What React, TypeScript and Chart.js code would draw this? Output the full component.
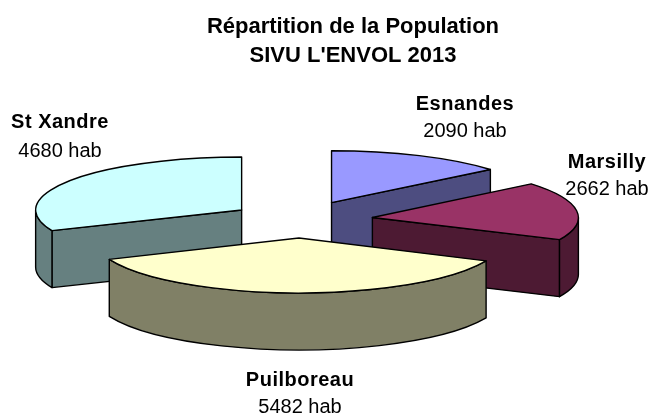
import React, { useEffect, useRef } from "react";
import { Chart, registerables } from "chart.js";

Chart.register(...registerables);

const communes = ["Esnandes", "Marsilly", "Puilboreau", "St Xandre"];
const habitants = [2090, 2662, 5482, 4680];
const habLabels = ["2090 hab", "2662 hab", "5482 hab", "4680 hab"];
const topColors = ["#9999FF", "#993366", "#FFFFCC", "#CCFFFF"];
const wallColors = ["#4D4D80", "#4D1A33", "#808066", "#668080"];
const titleLines = ["Répartition de la Population", "SIVU L'ENVOL 2013"];

const pie3d = {
  center: { x: 300, y: 220 },
  tilt: 0.26,
  flatten: [0.252, 0.257, 0.267, 0.257],
  depth: 57,
  pull: [74, 73, 69, 70],
  labelAt: [
    { x: 465, y: 110, gap: 27 },
    { x: 607, y: 168, gap: 27 },
    { x: 300, y: 386, gap: 27 },
    { x: 60, y: 128, gap: 29 },
  ],
};

const pie3dPlugin = {
  id: "pie3d",
  beforeDatasetsDraw(chart: any) {
    const ctx: CanvasRenderingContext2D = chart.ctx;
    const arcs: any[] = chart.getDatasetMeta(0).data;
    const { center, tilt, flatten, depth, pull } = pie3d;

    const items = arcs.map((arc, i) => {
      const mid = (arc.startAngle + arc.endAngle) / 2;
      return {
        arc,
        i,
        mid,
        cx: center.x + Math.cos(mid) * pull[i],
        cy: center.y + Math.sin(mid) * pull[i] * tilt,
      };
    });
    items.sort((a, b) => Math.sin(a.mid) - Math.sin(b.mid));

    ctx.save();
    ctx.lineWidth = 1.4;
    ctx.lineJoin = "round";
    ctx.strokeStyle = "#000";

    for (const { arc, i, cx, cy } of items) {
      const r = arc.outerRadius;
      const ratio = flatten[i];
      const ry = r * ratio;
      const s = arc.startAngle;
      const e = arc.endAngle;
      ctx.fillStyle = wallColors[i];

      const radial = (a: number) => {
        const px = cx + Math.cos(a) * r;
        const py = cy + Math.sin(a) * ry;
        ctx.beginPath();
        ctx.moveTo(cx, cy);
        ctx.lineTo(px, py);
        ctx.lineTo(px, py + depth);
        ctx.lineTo(cx, cy + depth);
        ctx.closePath();
        ctx.fill();
        ctx.stroke();
      };
      if (Math.sin(s - Math.PI / 2) > 1e-6) radial(s);
      if (Math.sin(e + Math.PI / 2) > 1e-6) radial(e);

      const a0 = Math.max(s, 0);
      const a1 = Math.min(e, Math.PI);
      if (a1 > a0) {
        ctx.beginPath();
        ctx.ellipse(cx, cy, r, ry, 0, a0, a1);
        ctx.ellipse(cx, cy + depth, r, ry, 0, a1, a0, true);
        ctx.closePath();
        ctx.fill();
        ctx.stroke();
      }

      // top face: the library's own arc, flattened and moved into place
      ctx.save();
      ctx.translate(cx, cy);
      ctx.scale(1, ratio);
      ctx.translate(-arc.x, -arc.y);
      arc.draw(ctx);
      ctx.restore();

      ctx.beginPath();
      ctx.moveTo(cx, cy);
      ctx.ellipse(cx, cy, r, ry, 0, s, e);
      ctx.closePath();
      ctx.stroke();
    }
    ctx.restore();
    return false;
  },
  afterDraw(chart: any) {
    const ctx: CanvasRenderingContext2D = chart.ctx;
    ctx.save();
    ctx.fillStyle = "#000";
    ctx.textAlign = "center";
    ctx.textBaseline = "alphabetic";
    communes.forEach((name, i) => {
      const p = pie3d.labelAt[i];
      ctx.font = 'bold 20px "Liberation Sans", Arial, sans-serif';
      (ctx as any).letterSpacing = "0.5px";
      ctx.fillText(name, p.x, p.y);
      ctx.font = '20px "Liberation Sans", Arial, sans-serif';
      (ctx as any).letterSpacing = "0px";
      ctx.fillText(habLabels[i], p.x, p.y + p.gap);
    });
    ctx.restore();
  },
};

export default function App() {
  const ref = useRef<HTMLCanvasElement>(null);
  useEffect(() => {
    document.body.style.margin = "0";
    const chart = new Chart(ref.current!, {
      type: "pie",
      plugins: [pie3dPlugin],
      data: {
        labels: communes,
        datasets: [
          {
            data: habitants,
            backgroundColor: topColors,
            borderWidth: 0,
          },
        ],
      },
      options: {
        animation: false,
        responsive: false,
        radius: 206,
        layout: { padding: { left: 56, right: 0, top: 0, bottom: 0 } },
        plugins: {
          legend: { display: false },
          tooltip: { enabled: false },
          title: {
            display: true,
            text: titleLines,
            color: "#000",
            font: {
              family: '"Liberation Sans", Arial, sans-serif',
              size: 22,
              weight: "bold",
              lineHeight: 1.32,
            },
            padding: { top: 12, bottom: 10 },
          },
        },
      },
    } as any);
    return () => chart.destroy();
  }, []);
  return <canvas ref={ref} width={650} height={414} style={{ display: "block" }} />;
}
